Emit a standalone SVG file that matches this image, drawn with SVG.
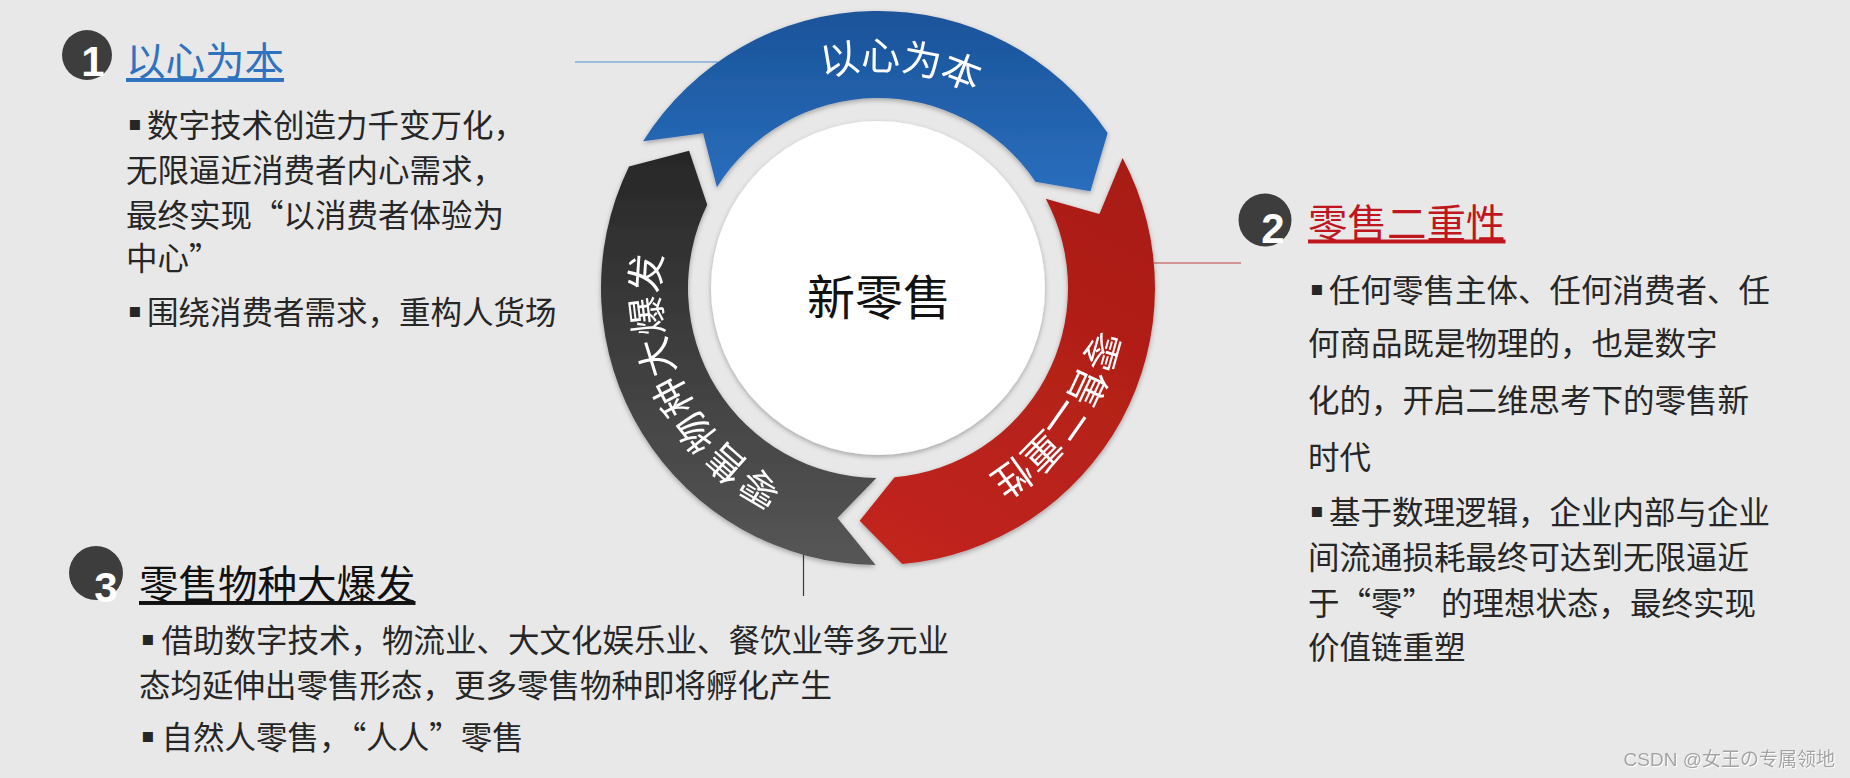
<svg xmlns="http://www.w3.org/2000/svg" width="1850" height="778" viewBox="0 0 1850 778">
<defs>
<linearGradient id="gBlue" gradientUnits="userSpaceOnUse" x1="0" y1="11" x2="0" y2="200"><stop offset="0" stop-color="#1a5399"/><stop offset="1" stop-color="#2a6fbf"/></linearGradient>
<linearGradient id="gRed" gradientUnits="userSpaceOnUse" x1="1100" y1="160" x2="880" y2="560"><stop offset="0" stop-color="#a91c17"/><stop offset="1" stop-color="#c2251c"/></linearGradient>
<linearGradient id="gDark" gradientUnits="userSpaceOnUse" x1="0" y1="160" x2="0" y2="565"><stop offset="0" stop-color="#282828"/><stop offset="1" stop-color="#565656"/></linearGradient>
<filter id="shadow" x="-10%" y="-10%" width="120%" height="120%"><feDropShadow dx="0" dy="2" stdDeviation="2.5" flood-color="#000" flood-opacity="0.3"/></filter>
<filter id="wm" x="-5%" y="-20%" width="110%" height="140%"><feDropShadow dx="1" dy="1" stdDeviation="0" flood-color="#ffffff" flood-opacity="1"/></filter>
<path id="arcBlue" d="M701.2,160.5 A218,218 0 0 1 1076.8,198.6"/>
<path id="arcRed" d="M1075.6,195.9 A218,218 0 0 1 859.0,505.2"/>
<path id="arcDark" d="M869.6,505.8 A218,218 0 0 1 693.5,171.8"/>
</defs>
<style>
.segtxt{font-family:"Noto Sans CJK SC",sans-serif;font-size:39px;fill:#ffffff}
.title{font-family:"Noto Sans CJK SC",sans-serif;font-size:39.5px;text-decoration:underline}
.body{font-family:"Noto Sans CJK SC",sans-serif;font-size:31.5px;fill:#262626}
.bul{font-family:"DejaVu Sans",sans-serif;font-size:20px}
.badge circle{fill:#3d3d3d}
.badge text{font-family:"Liberation Sans",sans-serif;font-weight:bold;font-size:42px;fill:#ffffff;text-anchor:middle}
.conn line{fill:none;stroke-width:1.2}
</style>
<rect width="1850" height="778" fill="#e8e8e8"/>

<g id="connectors" class="conn">
<line x1="575" y1="62" x2="718" y2="62" stroke="#4f8fd0"/>
<line x1="1154" y1="263" x2="1241" y2="263" stroke="#c0403a"/>
<line x1="803.5" y1="540" x2="803.5" y2="596" stroke="#3a3a3a"/>
</g>

<g id="seg-blue" filter="url(#shadow)">
<path d="M643.09,141.21 A277,277 0 0 1 1107.64,133.10 L1090.48,191.17 L1035.52,181.75 A190,190 0 0 0 716.87,187.32 L703.12,133.28 Z" fill="url(#gBlue)"/>
<text class="segtxt"><textPath href="#arcBlue" startOffset="50%" text-anchor="middle">以心为本</textPath></text>
</g>
<g id="seg-red" filter="url(#shadow)">
<path d="M1122.58,157.96 A277,277 0 0 1 902.14,563.94 L859.68,520.78 L894.56,477.28 A190,190 0 0 0 1045.76,198.80 L1099.43,213.91 Z" fill="url(#gRed)"/>
<text class="segtxt" letter-spacing="-2"><textPath href="#arcRed" startOffset="50%" text-anchor="middle">零售二重性</textPath></text>
</g>
<g id="seg-dark" filter="url(#shadow)">
<path d="M875.58,564.99 A277,277 0 0 1 629.03,166.57 L689.09,150.75 L707.23,204.71 A190,190 0 0 0 876.34,477.99 L837.45,517.95 Z" fill="url(#gDark)"/>
<text class="segtxt" letter-spacing="1"><textPath href="#arcDark" startOffset="50%" text-anchor="middle">零售物种大爆发</textPath></text>
</g>

<g id="center">
<circle cx="878" cy="288" r="167" fill="#ffffff" filter="url(#shadow)"/>
<text x="879" y="315" text-anchor="middle" font-family="Noto Sans CJK SC, sans-serif" font-size="48" fill="#111111">新零售</text>
</g>

<g id="block1">
<g class="badge"><circle cx="87" cy="55" r="25"/><text x="93" y="76">1</text></g>
<text class="title" x="126" y="76" fill="#2f72c0">以心为本</text>
<text class="body"><tspan class="bul" x="128" y="130">▪</tspan><tspan x="147" y="137">数字技术创造力千变万化，</tspan></text>
<text class="body" x="126" y="182">无限逼近消费者内心需求，</text>
<text class="body" x="126" y="227">最终实现“以消费者体验为</text>
<text class="body" x="126" y="270">中心”</text>
<text class="body"><tspan class="bul" x="128" y="317">▪</tspan><tspan x="147" y="324">围绕消费者需求，重构人货场</tspan></text>
</g>

<g id="block2">
<g class="badge"><circle cx="1265" cy="220" r="26.5"/><text x="1273" y="243">2</text></g>
<text class="title" x="1308" y="237.5" fill="#c0161d">零售二重性</text>
<text class="body"><tspan class="bul" x="1310" y="295">▪</tspan><tspan x="1329" y="302">任何零售主体、任何消费者、任</tspan></text>
<text class="body" x="1308" y="355">何商品既是物理的，也是数字</text>
<text class="body" x="1308" y="412">化的，开启二维思考下的零售新</text>
<text class="body" x="1308" y="469">时代</text>
<text class="body"><tspan class="bul" x="1310" y="517">▪</tspan><tspan x="1329" y="524">基于数理逻辑，企业内部与企业</tspan></text>
<text class="body" x="1308" y="569">间流通损耗最终可达到无限逼近</text>
<text class="body" x="1308" y="615">于“零” 的理想状态，最终实现</text>
<text class="body" x="1308" y="659">价值链重塑</text>
</g>

<g id="block3">
<g class="badge"><circle cx="96" cy="573" r="27"/><text x="106" y="602" font-size="45">3</text></g>
<text class="title" x="139" y="599" fill="#111111">零售物种大爆发</text>
<text class="body"><tspan class="bul" x="141" y="645">▪</tspan><tspan x="161.5" y="652">借助数字技术，物流业、大文化娱乐业、餐饮业等多元业</tspan></text>
<text class="body" x="139" y="697">态均延伸出零售形态，更多零售物种即将孵化产生</text>
<text class="body"><tspan class="bul" x="141" y="742">▪</tspan><tspan x="161.5" y="749">自然人零售，“人人”零售</tspan></text>
</g>

<text id="watermark" x="1835" y="766" text-anchor="end" font-family="Liberation Sans, Noto Sans CJK SC, sans-serif" font-size="19" fill="#a3a3a3" filter="url(#wm)">CSDN @女王の专属领地</text>
</svg>
